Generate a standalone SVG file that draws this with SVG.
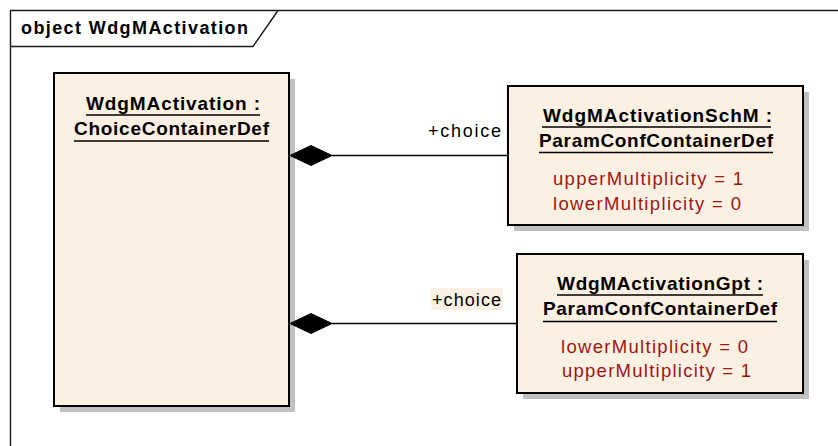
<svg xmlns="http://www.w3.org/2000/svg" width="838" height="446" viewBox="0 0 838 446">
<style>
.frame{fill:none;stroke:#1a1a1a;stroke-width:1.4}
.box{fill:#FBF0E1;stroke:#000;stroke-width:2}
.shadow{fill:#C0C0C0}
.title{font-family:"Liberation Sans",Arial,sans-serif;font-weight:bold;font-size:19px;fill:#000}
.head{font-family:"Liberation Sans",Arial,sans-serif;font-weight:bold;font-size:18px;fill:#000}
.attr{font-family:"Liberation Sans",Arial,sans-serif;font-size:18.5px;fill:#9E1616}
.lbl{font-family:"Liberation Sans",Arial,sans-serif;font-size:18px;fill:#000}
.ul{stroke:#000;stroke-width:1.6}
.conn{stroke:#000;stroke-width:1.6;fill:none}
.dia{fill:#000;stroke:#000;stroke-width:1}
</style>
<rect width="838" height="446" fill="#fff"/>
<g id="frame">
<path class="frame" d="M10.5,446 V10.5 H838"/>
<path class="frame" d="M10.5,46.5 H253 L278,10.5"/>
<text class="head" x="21" y="34" textLength="227" lengthAdjust="spacing">object WdgMActivation</text>
</g>
<g id="node-WdgMActivation">
<rect class="shadow" x="60" y="79" width="235" height="333"/>
<rect class="box" x="54" y="73" width="235" height="333"/>
<text class="title" x="86" y="109.5" textLength="174" lengthAdjust="spacing">WdgMActivation :</text>
<line class="ul" x1="86" y1="115" x2="260" y2="115"/>
<text class="title" x="74" y="134.5" textLength="195" lengthAdjust="spacing">ChoiceContainerDef</text>
<line class="ul" x1="74" y1="141" x2="269" y2="141"/>
</g>
<g id="node-WdgMActivationSchM">
<rect class="shadow" x="514" y="92" width="295" height="139"/>
<rect class="box" x="508" y="86" width="295" height="139"/>
<text class="title" x="543" y="121.5" textLength="229" lengthAdjust="spacing">WdgMActivationSchM :</text>
<line class="ul" x1="542" y1="127" x2="771" y2="127"/>
<text class="title" x="539" y="146.5" textLength="234" lengthAdjust="spacing">ParamConfContainerDef</text>
<line class="ul" x1="539" y1="152.5" x2="773" y2="152.5"/>
<text class="attr" x="553" y="184.5" textLength="190" lengthAdjust="spacing">upperMultiplicity = 1</text>
<text class="attr" x="553" y="209.5" textLength="188" lengthAdjust="spacing">lowerMultiplicity = 0</text>
</g>
<g id="node-WdgMActivationGpt">
<rect class="shadow" x="523" y="260" width="286" height="139"/>
<rect class="box" x="517" y="254" width="286" height="139"/>
<text class="title" x="557" y="289.5" textLength="206" lengthAdjust="spacing">WdgMActivationGpt :</text>
<line class="ul" x1="557" y1="295" x2="763" y2="295"/>
<text class="title" x="543" y="315" textLength="234" lengthAdjust="spacing">ParamConfContainerDef</text>
<line class="ul" x1="543" y1="321.5" x2="777" y2="321.5"/>
<text class="attr" x="561" y="352.5" textLength="187" lengthAdjust="spacing">lowerMultiplicity = 0</text>
<text class="attr" x="562" y="376.5" textLength="189" lengthAdjust="spacing">upperMultiplicity = 1</text>
</g>
<g id="connectors">
<line class="conn" x1="332" y1="155.5" x2="508" y2="155.5"/>
<polygon class="dia" points="290,155.5 311,145.5 332,155.5 311,165.5"/>
<text class="lbl" x="428" y="137" textLength="73" lengthAdjust="spacing">+choice</text>
<line class="conn" x1="332" y1="323.5" x2="517" y2="323.5"/>
<polygon class="dia" points="290,323.5 311,313.5 332,323.5 311,333.5"/>
<rect x="431" y="288" width="72" height="22" fill="#FBF0E1"/>
<text class="lbl" x="432" y="305.5" textLength="69" lengthAdjust="spacing">+choice</text>
</g>
</svg>
